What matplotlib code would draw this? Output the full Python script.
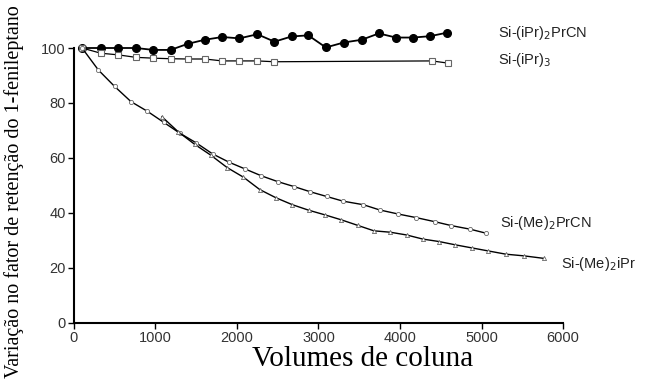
import matplotlib
matplotlib.use("Agg")
from matplotlib import pyplot as plt

# Column volumes and retention factor change (%) for each bonded phase
x_ipr2prcn = [100, 330, 545, 760, 975, 1185, 1395, 1605, 1820, 2030, 2250,
              2460, 2670, 2875, 3090, 3310, 3530, 3740, 3950, 4160, 4370, 4580]
y_ipr2prcn = [100, 100, 100, 100, 99.3, 99.3, 101.5, 103, 104, 103.5, 105,
              102.3, 104.2, 104.6, 100.2, 102, 103, 105.3, 103.8, 103.8, 104.3, 105.6]

x_ipr3 = [100, 330, 545, 760, 975, 1185, 1395, 1605, 1820, 2030, 2250, 2460, 4390, 4590]
y_ipr3 = [100, 98.1, 97.5, 96.6, 96.3, 96.1, 96, 96, 95.3, 95.3, 95.3, 95, 95.3, 94.5]

x_me2prcn = [100, 300, 500, 700, 900, 1100, 1300, 1500, 1700, 1900, 2100, 2300, 2500,
             2700, 2900, 3100, 3300, 3550, 3750, 3980, 4200, 4430, 4630, 4860, 5060]
y_me2prcn = [100, 92, 86, 80.5, 77, 73, 69, 65.5, 61.5, 58.5, 56, 53.5, 51.4,
             49.6, 47.7, 46, 44.3, 43, 41.1, 39.6, 38.3, 36.8, 35.4, 34.1, 32.6]

x_me2ipr = [1080, 1280, 1480, 1680, 1880, 2080, 2280, 2480, 2680, 2880, 3080, 3280,
            3480, 3680, 3880, 4080, 4280, 4480, 4680, 4880, 5080, 5300, 5520, 5760]
y_me2ipr = [75, 69.5, 65, 61, 56.5, 53, 48.5, 45.5, 43, 41, 39.3, 37.5,
            35.5, 33.5, 33, 32, 30.5, 29.6, 28.4, 27.3, 26.2, 25, 24.4, 23.5]

x_ticks = [0, 1000, 2000, 3000, 4000, 5000, 6000]
y_ticks = [0, 20, 40, 60, 80, 100]

fig = plt.figure(figsize=(6.54, 3.84), dpi=100)
ax = fig.add_axes([0.113, 0.159, 0.748, 0.716])

ax.plot(x_ipr2prcn, y_ipr2prcn, color="black", lw=1.3, marker="o", ms=5.5,
        mfc="black", clip_on=False)
ax.plot(x_ipr3, y_ipr3, color="black", lw=0.9, marker="s", ms=4.5,
        mfc="white", mec="#666666", mew=0.8, clip_on=False)
ax.plot(x_me2prcn, y_me2prcn, color="black", lw=1.0, marker="o", ms=3,
        mfc="white", mec="#666666", mew=0.6, clip_on=False)
ax.plot(x_me2ipr, y_me2ipr, color="black", lw=1.0, marker="^", ms=3,
        mfc="white", mec="#666666", mew=0.6, clip_on=False)

lab_font = dict(family="Liberation Sans", fontsize=10.5, color="#222222")
ax.text(5200, 105.5, "Si-(iPr)$_2$PrCN", ha="left", va="center", **lab_font)
ax.text(5200, 95.8, "Si-(iPr)$_3$", ha="left", va="center", **lab_font)
ax.text(5230, 36.3, "Si-(Me)$_2$PrCN", ha="left", va="center", **lab_font)
ax.text(5970, 21.5, "Si-(Me)$_2$iPr", ha="left", va="center", **lab_font)

ax.set_xlim(0, 6000)
ax.set_ylim(0, 100)
ax.set_xticks(x_ticks)
ax.set_yticks(y_ticks)
ax.spines["top"].set_visible(False)
ax.spines["right"].set_visible(False)
ax.spines["left"].set_linewidth(1.5)
ax.spines["bottom"].set_linewidth(1.5)
ax.tick_params(direction="out", length=4, width=1, labelsize=10.5,
               labelcolor="#333333", pad=2)
for lbl in ax.get_xticklabels() + ax.get_yticklabels():
    lbl.set_family("Liberation Sans")

ax.set_xlabel("Volumes de coluna", family="Liberation Serif", fontsize=21, labelpad=-2)
ax.xaxis.set_label_coords(0.59, -0.083)
fig.text(0.022, 0.5, "Variação no fator de retenção do 1-fenileptano",
         family="Liberation Serif", fontsize=14.5, rotation=90,
         ha="center", va="center")

fig.savefig("out.png", dpi=100)
